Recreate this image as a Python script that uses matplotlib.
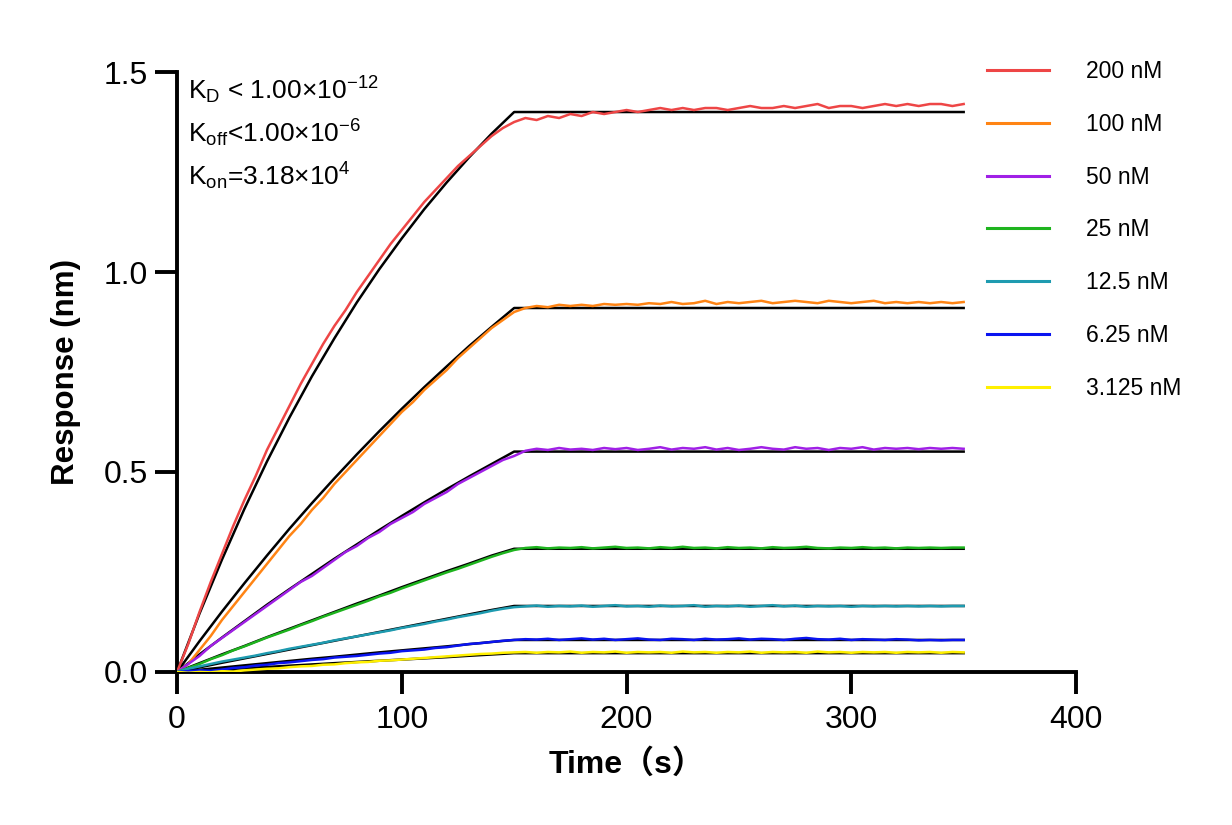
import numpy as np
import matplotlib
matplotlib.use("Agg")
from matplotlib import pyplot as plt

plt.rcParams['font.family'] = ['Liberation Sans', 'Noto Sans CJK SC', 'DejaVu Sans']
plt.rcParams['mathtext.fontset'] = 'custom'
plt.rcParams['mathtext.rm'] = 'Liberation Sans'
plt.rcParams['mathtext.it'] = 'Liberation Sans'

# sample times of the measured traces (s)
t = np.arange(0, 355, 5)
# times of the fitted curve points (s)
fit_t = [0, 10, 20, 30, 40, 50, 60, 70, 80, 90, 100, 110, 120, 130, 140, 150, 350]

labels = ["200 nM", "100 nM", "50 nM", "25 nM", "12.5 nM", "6.25 nM", "3.125 nM"]
colors = ["#EE4646", "#FF8414", "#A020E6", "#1EB41E", "#1E9BB0", "#0A14F0", "#FFF000"]

r200 = [0, 0.07, 0.15, 0.225, 0.295, 0.365, 0.43, 0.49, 0.555, 0.61, 0.665, 0.72, 0.77, 0.82, 0.865,
        0.905, 0.95, 0.99, 1.03, 1.07, 1.105, 1.14, 1.175, 1.205, 1.235, 1.265, 1.29, 1.315, 1.34, 1.36,
        1.375, 1.385, 1.38, 1.39, 1.385, 1.395, 1.39, 1.40, 1.395, 1.40, 1.405, 1.40, 1.405, 1.41, 1.405,
        1.41, 1.405, 1.41, 1.41, 1.405, 1.41, 1.415, 1.41, 1.41, 1.415, 1.41, 1.415, 1.42, 1.41, 1.415,
        1.415, 1.41, 1.415, 1.42, 1.415, 1.42, 1.415, 1.42, 1.42, 1.415, 1.42]
r100 = [0, 0.02, 0.055, 0.09, 0.13, 0.165, 0.20, 0.235, 0.27, 0.305, 0.34, 0.37, 0.405, 0.435, 0.47,
        0.50, 0.53, 0.56, 0.59, 0.62, 0.65, 0.675, 0.705, 0.73, 0.755, 0.785, 0.81, 0.835, 0.86, 0.88,
        0.90, 0.91, 0.915, 0.912, 0.918, 0.915, 0.918, 0.915, 0.92, 0.918, 0.92, 0.918, 0.922, 0.92, 0.925,
        0.92, 0.922, 0.928, 0.92, 0.925, 0.922, 0.925, 0.928, 0.922, 0.925, 0.928, 0.925, 0.922, 0.928, 0.925,
        0.922, 0.925, 0.928, 0.922, 0.925, 0.922, 0.925, 0.922, 0.925, 0.922, 0.925]
r50 = [0, 0.02, 0.04, 0.065, 0.085, 0.105, 0.125, 0.145, 0.165, 0.185, 0.205, 0.225, 0.24, 0.26, 0.28,
       0.30, 0.315, 0.335, 0.35, 0.37, 0.385, 0.40, 0.42, 0.435, 0.45, 0.47, 0.485, 0.50, 0.515, 0.53,
       0.54, 0.553, 0.558, 0.555, 0.56, 0.556, 0.558, 0.555, 0.56, 0.557, 0.56, 0.555, 0.558, 0.562, 0.556,
       0.56, 0.558, 0.562, 0.556, 0.56, 0.555, 0.558, 0.562, 0.558, 0.556, 0.562, 0.558, 0.56, 0.555, 0.56,
       0.558, 0.562, 0.556, 0.56, 0.558, 0.56, 0.557, 0.56, 0.558, 0.56, 0.558]
r25 = [0, 0.01, 0.02, 0.032, 0.042, 0.054, 0.064, 0.075, 0.086, 0.096, 0.106, 0.117, 0.127, 0.138, 0.148,
       0.158, 0.168, 0.178, 0.189, 0.198, 0.209, 0.219, 0.229, 0.239, 0.249, 0.258, 0.268, 0.278, 0.288, 0.297,
       0.305, 0.31, 0.312, 0.309, 0.311, 0.31, 0.312, 0.309, 0.311, 0.313, 0.31, 0.311, 0.309, 0.312, 0.31,
       0.313, 0.31, 0.311, 0.309, 0.312, 0.31, 0.311, 0.309, 0.312, 0.31, 0.311, 0.313, 0.31, 0.309, 0.311,
       0.31, 0.312, 0.31, 0.311, 0.309, 0.311, 0.31, 0.311, 0.31, 0.311, 0.311]
r12 = [0, 0.008, 0.014, 0.02, 0.026, 0.031, 0.036, 0.041, 0.047, 0.052, 0.058, 0.063, 0.068, 0.073, 0.079,
       0.084, 0.089, 0.094, 0.099, 0.104, 0.11, 0.115, 0.12, 0.126, 0.131, 0.137, 0.142, 0.147, 0.153, 0.158,
       0.162, 0.164, 0.166, 0.163, 0.165, 0.164, 0.166, 0.163, 0.165, 0.167, 0.164, 0.165, 0.163, 0.166, 0.164,
       0.165, 0.167, 0.163, 0.165, 0.164, 0.166, 0.163, 0.165, 0.167, 0.164, 0.166, 0.163, 0.165, 0.164, 0.165,
       0.163, 0.165, 0.164, 0.165, 0.164, 0.165, 0.164, 0.165, 0.164, 0.165, 0.165]
r6 = [0, 0.002, 0.004, 0.003, 0.006, 0.01, 0.012, 0.016, 0.018, 0.022, 0.024, 0.027, 0.03, 0.032, 0.036,
      0.038, 0.04, 0.043, 0.046, 0.048, 0.052, 0.054, 0.056, 0.06, 0.062, 0.066, 0.07, 0.072, 0.075, 0.078,
      0.08, 0.082, 0.081, 0.083, 0.08, 0.082, 0.084, 0.081, 0.083, 0.08, 0.082, 0.084, 0.081, 0.08, 0.083,
      0.082, 0.08, 0.083, 0.081, 0.082, 0.084, 0.081, 0.083, 0.082, 0.08, 0.083, 0.085, 0.082, 0.081, 0.083,
      0.08, 0.082, 0.081, 0.08, 0.082, 0.081, 0.079, 0.08, 0.079, 0.08, 0.08]
r3 = [0, -0.002, 0, -0.001, 0.002, 0.001, 0.004, 0.006, 0.008, 0.009, 0.012, 0.014, 0.015, 0.018, 0.019,
      0.022, 0.024, 0.025, 0.028, 0.029, 0.031, 0.033, 0.035, 0.037, 0.039, 0.041, 0.043, 0.045, 0.046, 0.048,
      0.049, 0.05, 0.048, 0.05, 0.049, 0.051, 0.048, 0.05, 0.049, 0.051, 0.048, 0.05, 0.049, 0.05, 0.048,
      0.051, 0.049, 0.05, 0.048, 0.05, 0.049, 0.051, 0.048, 0.05, 0.049, 0.05, 0.048, 0.051, 0.049, 0.05,
      0.048, 0.05, 0.049, 0.05, 0.048, 0.05, 0.049, 0.05, 0.048, 0.05, 0.049]
measured = [r200, r100, r50, r25, r12, r6, r3]

f200 = [0, 0.146, 0.281, 0.408, 0.526, 0.636, 0.739, 0.834, 0.924, 1.007, 1.084, 1.157, 1.224, 1.287, 1.346, 1.400, 1.400]
f100 = [0, 0.077, 0.151, 0.222, 0.291, 0.358, 0.422, 0.484, 0.544, 0.602, 0.658, 0.712, 0.764, 0.815, 0.863, 0.910, 0.910]
f50 = [0, 0.044, 0.086, 0.127, 0.168, 0.207, 0.245, 0.283, 0.319, 0.355, 0.390, 0.424, 0.457, 0.489, 0.520, 0.551, 0.551]
f25 = [0, 0.022, 0.044, 0.065, 0.087, 0.108, 0.129, 0.150, 0.171, 0.191, 0.212, 0.232, 0.252, 0.271, 0.291, 0.308, 0.308]
f12 = [0, 0.0115, 0.023, 0.034, 0.045, 0.056, 0.067, 0.078, 0.089, 0.100, 0.111, 0.122, 0.133, 0.144, 0.155, 0.165, 0.165]
f6 = [0, 0.0055, 0.011, 0.0165, 0.022, 0.0275, 0.033, 0.038, 0.0435, 0.049, 0.054, 0.059, 0.064, 0.0695, 0.075, 0.080, 0.080]
f3 = [0, 0.0031, 0.0063, 0.0094, 0.0125, 0.0157, 0.0188, 0.022, 0.025, 0.028, 0.031, 0.034, 0.037, 0.0405, 0.0437, 0.047, 0.047]
fits = [f200, f100, f50, f25, f12, f6, f3]

fig = plt.figure(figsize=(12.32, 8.25), dpi=100)
ax = fig.add_axes([0.1437, 0.1855, 0.7297, 0.7272])

for ys in fits:
    ax.plot(fit_t, ys, color='black', lw=1.8, zorder=2)
for ys, c, lab in zip(measured, colors, labels):
    ax.plot(t, ys, color=c, lw=1.8, label=lab, zorder=3)

ax.set_xlim(0, 400)
ax.set_ylim(0, 1.5)
ax.set_xticks([0, 100, 200, 300, 400])
ax.set_yticks([0.0, 0.5, 1.0, 1.5])
ax.set_yticklabels(["0.0", "0.5", "1.0", "1.5"])
for s in ['top', 'right']:
    ax.spines[s].set_visible(False)
for s in ['left', 'bottom']:
    ax.spines[s].set_linewidth(2.8)
ax.tick_params(width=2.8, length=16, labelsize=23, pad=5)
ax.tick_params(axis='x', pad=8)

ax.set_ylabel("Response (nm)", fontsize=22.5, fontweight='bold', labelpad=16)
ax.set_xlabel("Time（s）", fontsize=23, fontweight='bold', labelpad=10)

kin = [r"K$_\mathrm{D}$ < 1.00×10$^{-12}$",
       r"K$_\mathrm{off}$<1.00×10$^{-6}$",
       r"K$_\mathrm{on}$=3.18×10$^{4}$"]
for i, s in enumerate(kin):
    ax.text(0.012, 0.995 - i * 0.071, s, transform=ax.transAxes,
            fontsize=19, va='top', ha='left')

leg = ax.legend(loc='upper left', bbox_to_anchor=(0.901, 1.02), frameon=False, borderpad=0,
                borderaxespad=0, fontsize=16.5, handlelength=2.7, handletextpad=1.6, labelspacing=1.3)
for ln in leg.get_lines():
    ln.set_linewidth(2.2)

fig.savefig("out.png", dpi=100)
